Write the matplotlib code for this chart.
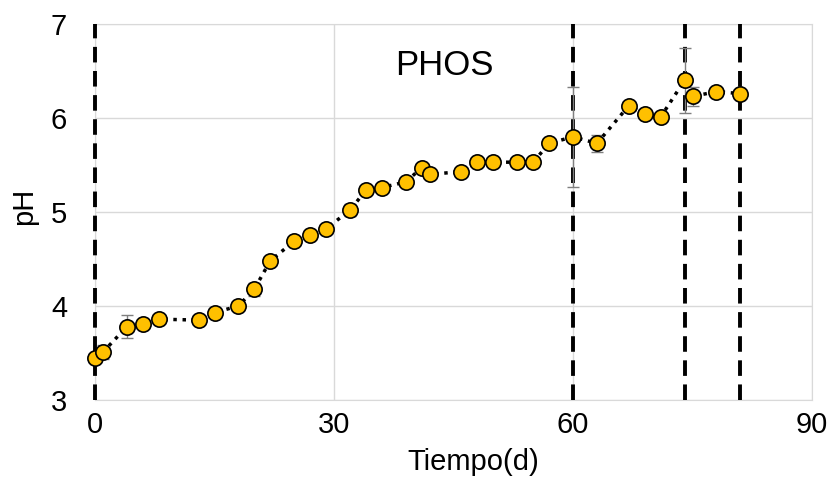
import matplotlib.pyplot as plt

plt.rcParams['font.family'] = ['Liberation Sans', 'DejaVu Sans']

# data
dias = [0, 1, 4, 6, 8, 13, 15, 18, 20, 22, 25, 27, 29, 32, 34, 36, 39, 41, 42,
        46, 48, 50, 53, 55, 57, 60, 63, 67, 69, 71, 74, 75, 78, 81]
ph = [3.45, 3.51, 3.78, 3.81, 3.86, 3.85, 3.93, 4.00, 4.18, 4.48, 4.69, 4.76,
      4.82, 5.02, 5.23, 5.26, 5.32, 5.47, 5.40, 5.43, 5.53, 5.53, 5.53, 5.53,
      5.73, 5.80, 5.73, 6.13, 6.04, 6.01, 6.40, 6.23, 6.28, 6.26]
err = [0.03, 0.07, 0.12, 0.04, 0.03, 0.03, 0.05, 0.04, 0.07, 0.03, 0.04, 0.05,
       0.03, 0.06, 0.05, 0.03, 0.03, 0.03, 0.03, 0.04, 0.03, 0.03, 0.03, 0.03,
       0.03, 0.53, 0.09, 0.03, 0.03, 0.03, 0.35, 0.10, 0.04, 0.04]
cortes = [0, 60, 74, 81]

fig = plt.figure(figsize=(8.33, 4.84), dpi=100)
ax = fig.add_axes([95 / 833, 1 - 400 / 484, 717 / 833, 376 / 484])

# dashed phase lines sit above the light grey spines
for c in cortes:
    ax.axvline(c, color='black', lw=2.8, dashes=(4.0, 2.2), zorder=3,
               clip_on=False)

ax.errorbar(dias, ph, yerr=err, fmt='none', ecolor='#7f7f7f', elinewidth=1,
            capsize=4, capthick=1, zorder=3.5)
ax.plot(dias, ph, ':', color='black', lw=2.5, zorder=4)
ax.plot(dias, ph, 'o', markersize=11, markerfacecolor='#FFC000',
        markeredgecolor='black', markeredgewidth=1.2, zorder=5,
        clip_on=False)

ax.set_xlim(0, 90)
ax.set_ylim(3, 7)
ax.set_xticks([0, 30, 60, 90])
ax.set_yticks([3, 4, 5, 6, 7])
ax.grid(True, color='#d9d9d9', lw=1)
ax.set_axisbelow(True)
for s in ax.spines.values():
    s.set_color('#d9d9d9')
ax.tick_params(length=0, labelsize=21)
ax.tick_params(axis='y', pad=20)
ax.tick_params(axis='x', pad=8)

ax.text(43.8, 6.56, 'PHOS', fontsize=25, ha='center', va='center')
ax.set_xlabel('Tiempo(d)', fontsize=21, va='center')
ax.xaxis.set_label_coords(0.527, -0.165)
ax.set_ylabel('pH', fontsize=21, va='center')
ax.yaxis.set_label_coords(-0.099, 0.515)

plt.savefig('out.png', dpi=100)
